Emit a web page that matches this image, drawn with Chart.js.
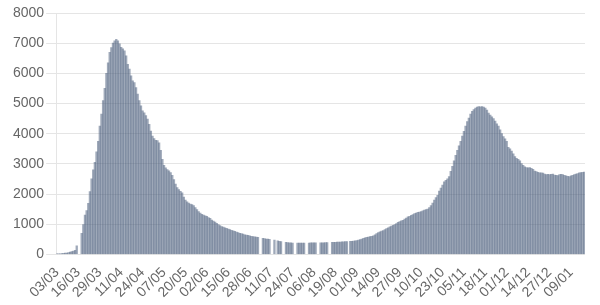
<!DOCTYPE html>
<html>
<head>
<meta charset="utf-8">
<script src="https://cdn.jsdelivr.net/npm/chart.js@4/dist/chart.umd.min.js"></script>
<style>
  html, body { margin: 0; padding: 0; background: #fff; }
  #wrap { width: 600px; height: 305px; }
</style>
</head>
<body>
<div id="wrap"><canvas id="chartRea"></canvas></div>
<script>
// === Datos diarios (03/03/2020 -> 17/01/2021) ===
const startDate = "2020-03-03";
const tickEvery = 13;

const mar = [12, 15, 20, 25, 30, 40, 45, 60, 75, 90, 110, 130, 280, null, null,
  700, 990, 1300, 1450, 1690, 2080, 2500, 2800, 3050, 3400, 3750, 4250, 4650, 5100];
const apr = [5500, 6000, 6350, 6700, 6850, 7000, 7080, 7130, 7080, 6980, 6860, 6810, 6750, 6580, 6300,
  6140, 5920, 5750, 5690, 5530, 5310, 5100, 4920, 4760, 4690, 4600, 4480, 4310, 4090, 3920];
const may = [3840, 3780, 3770, 3700, 3450, 3150, 2950, 2870, 2810, 2770, 2710, 2620, 2480, 2330, 2210,
  2150, 2090, 2040, 1900, 1800, 1740, 1700, 1670, 1650, 1620, 1550, 1480, 1420, 1370, 1330, 1300];
const jun = [1280, 1260, 1220, 1190, 1140, 1100, 1070, 1030, 990, 950, 920, 900, 880, 860, 840,
  820, 800, 780, 760, 740, 720, 700, 690, 670, 650, 640, 630, 615, 600, 590];
const jul = [580, 570, 560, null, null, 530, 520, 510, 505, 500, null, null, 470, null, 450,
  435, 420, null, null, 395, 390, 385, 380, 375, null, null, 372, 370, 372, 375, 370];
const aug = [null, null, 375, 378, 380, 378, 380, null, null, 380, 382, 385, 388, 390, null,
  null, 395, 398, 400, 403, 405, 410, 412, 415, 420, 425, null, 430, 435, 440, 450];
const sep = [455, 470, 490, 510, 530, 545, 560, 575, 590, 600, 615, 650, 690, 720, 750,
  770, 790, 820, 850, 880, 910, 940, 960, 990, 1020, 1060, 1090, 1110, 1130, 1170];
const oct = [1200, 1240, 1260, 1290, 1320, 1350, 1370, 1390, 1400, 1420, 1440, 1470, 1480, 1500, 1550,
  1620, 1700, 1800, 1880, 1960, 2100, 2200, 2300, 2400, 2450, 2500, 2580, 2750, 2920, 3100, 3280];
const nov = [3450, 3600, 3750, 3920, 4080, 4250, 4400, 4520, 4650, 4740, 4800, 4850, 4880, 4900, 4890,
  4900, 4880, 4850, 4780, 4680, 4620, 4560, 4500, 4420, 4330, 4250, 4130, 4000, 3900, 3830];
const dec = [3750, 3550, 3500, 3420, 3330, 3240, 3180, 3150, 3100, 3010, 2950, 2900, 2880, 2870, 2880,
  2850, 2820, 2760, 2740, 2720, 2700, 2700, 2690, 2660, 2640, 2650, 2640, 2650, 2660, 2630, 2620];
const jan = [2610, 2640, 2650, 2640, 2620, 2600, 2590, 2580, 2600, 2620, 2640, 2660, 2680, 2700, 2710,
  2720, 2730];

const valores = [].concat(mar, apr, may, jun, jul, aug, sep, oct, nov, dec, jan);

// etiquetas dd/mm
const etiquetas = [];
const d0 = new Date(startDate + "T00:00:00Z");
for (let i = 0; i < valores.length; i++) {
  const d = new Date(d0.getTime() + i * 86400000);
  const dd = String(d.getUTCDate()).padStart(2, "0");
  const mm = String(d.getUTCMonth() + 1).padStart(2, "0");
  etiquetas.push(dd + "/" + mm);
}

Chart.defaults.font.family = "'Helvetica Neue', Helvetica, Arial, 'Liberation Sans', sans-serif";
Chart.defaults.font.size = 14;
Chart.defaults.color = "#666";

new Chart(document.getElementById("chartRea"), {
  type: "bar",
  data: {
    labels: etiquetas,
    datasets: [{
      label: "Réanimation",
      data: valores,
      backgroundColor: "rgba(70, 90, 120, 0.52)",
      borderWidth: 0,
      barPercentage: 1,
      categoryPercentage: 1
    }]
  },
  options: {
    responsive: true,
    maintainAspectRatio: false,
    animation: false,
    plugins: {
      legend: { display: false },
      tooltip: { enabled: false }
    },
    layout: {
      padding: { top: 13, right: 15, left: 11, bottom: 2 }
    },
    scales: {
      x: {
        grid: { display: false },
        border: { display: false },
        ticks: {
          autoSkip: false,
          minRotation: 45,
          maxRotation: 45,
          padding: 2,
          callback: function (val, idx) {
            return idx % tickEvery === 0 ? etiquetas[idx] : null;
          }
        }
      },
      y: {
        min: 0,
        max: 8000,
        ticks: {
          stepSize: 1000,
          padding: 2,
          callback: function (v) { return String(v); }
        },
        grid: { color: "rgba(0,0,0,0.1)", tickLength: 10 },
        border: { color: "rgba(0,0,0,0.1)" }
      }
    }
  }
});
</script>
</body>
</html>
